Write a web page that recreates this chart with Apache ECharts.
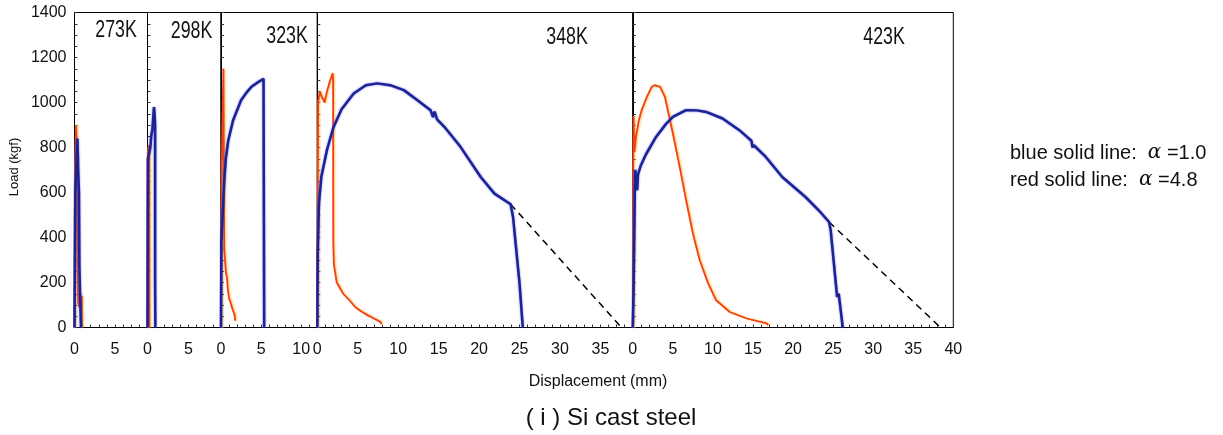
<!DOCTYPE html>
<html>
<head>
<meta charset="utf-8">
<script src="https://cdn.jsdelivr.net/npm/echarts@6/dist/echarts.min.js"></script>
<style>
  html, body { margin: 0; padding: 0; background: #fff; }
  #chart { width: 1223px; height: 435px; }
</style>
</head>
<body>
<div id="chart"></div>
<script>
  // panel names and x ranges (mm)
  const temps = ['273K', '298K', '323K', '348K', '423K']
  const xMax = [9, 9, 12, 39, 40]

  // alpha = 4.8 (red), [displacement mm, load kgf]
  const red273 = [[0, 0], [0.05, 700], [0.2, 900], [0.28, 760], [0.33, 520], [0.38, 250], [0.45, 110], [0.6, 90], [0.7, 150], [0.8, 110], [0.9, 140], [0.92, 0]]
  const red298 = [[0, 0], [0.04, 780], [0.15, 810], [0.2, 800], [0.22, 0]]
  const red323 = [[0, 0], [0.1, 720], [0.3, 1150], [0.38, 1150], [0.4, 350], [0.55, 350], [0.62, 240], [0.75, 220], [0.85, 170], [1.0, 130], [1.2, 110], [1.45, 80], [1.7, 55], [1.75, 30]]
  const red348 = [[0, 0], [0.1, 1000], [0.3, 1050], [0.5, 1030], [0.9, 1000], [1.2, 1050], [1.6, 1100], [1.9, 1130], [1.95, 1100], [1.97, 380], [2.05, 280], [2.4, 200], [3.2, 150], [4.0, 120], [4.7, 90], [5.5, 70], [6.2, 55], [7.0, 40], [7.8, 25], [7.9, 15]]
  const red423 = [[0, 0], [0.05, 700], [0.1, 940], [0.2, 780], [0.4, 850], [0.75, 920], [1.1, 966], [1.75, 1025], [2.35, 1069], [2.7, 1077], [3.4, 1069], [4.0, 1025], [5.0, 862], [5.85, 714], [6.65, 566], [7.5, 418], [8.35, 299], [9.4, 196], [10.4, 121], [12.1, 69], [14.2, 40], [16.7, 18], [16.9, 10]]

  // alpha = 1.0 (blue)
  const blue273 = [[0, 0], [0.1, 600], [0.35, 840], [0.42, 760], [0.45, 700], [0.55, 600], [0.6, 270], [0.75, 265], [0.8, 0]]
  const blue298 = [[0, 0], [0.05, 750], [0.35, 800], [0.45, 850], [0.6, 880], [0.75, 960], [0.8, 980], [0.88, 940], [0.93, 900], [0.93, 200], [0.96, 0]]
  const blue323 = [[0, 0], [0.05, 380], [0.4, 650], [0.6, 750], [0.9, 830], [1.5, 920], [2.5, 1010], [3.2, 1045], [3.8, 1070], [4.6, 1090], [5.3, 1105], [5.38, 1100], [5.38, 0]]
  const blue348 = [[0, 0], [0.05, 320], [0.2, 550], [0.5, 670], [1.2, 790], [2.0, 890], [3.0, 970], [4.5, 1040], [6.0, 1077], [7.4, 1085], [9.0, 1077], [10.7, 1055], [12.3, 1012], [14.0, 966], [14.3, 935], [14.5, 960], [14.8, 925], [15.7, 892], [17.7, 803], [20.2, 669], [21.9, 595], [23.9, 548], [24.2, 490], [25.0, 196], [25.4, 0]]
  const blue423 = [[0, 0], [0.1, 170], [0.25, 600], [0.3, 700], [0.45, 650], [0.55, 610], [0.65, 680], [1.0, 720], [1.65, 770], [2.9, 847], [4.15, 905], [5.0, 936], [6.65, 966], [8.0, 965], [9.15, 958], [11.2, 929], [13.3, 877], [14.8, 830], [14.95, 800], [15.1, 810], [16.6, 758], [18.65, 669], [21.55, 580], [23.2, 521], [24.5, 469], [24.7, 432], [25.5, 136], [25.7, 150], [25.9, 92], [26.2, 0]]

  // extrapolated dashed lines
  const dash348 = [[23.9, 548], [37.6, 0]]
  const dash423 = [[24.5, 469], [38.4, 0]]

  const reds = [red273, red298, red323, red348, red423]
  const blues = [blue273, blue298, blue323, blue348, blue423]
  const dashes = [null, null, null, dash348, dash423]

  // panel edges in px
  const edges = [74.5, 147.5, 221, 317.3, 632.8, 953.3]
  const gridTop = 12.5
  const gridHeight = 315
  const font = '"Liberation Sans", Arial, Helvetica, sans-serif'

  const chart = echarts.init(document.getElementById('chart'))

  const grid = []
  const xAxis = []
  const yAxis = []
  const series = []

  for (let i = 0; i < 5; i++) {
    grid.push({
      left: edges[i],
      top: gridTop,
      width: edges[i + 1] - edges[i],
      height: gridHeight,
      show: true,
      borderColor: '#000',
      borderWidth: 1
    })
    xAxis.push({
      type: 'value',
      gridIndex: i,
      min: 0,
      max: xMax[i],
      interval: 1,
      splitLine: {show: false},
      axisLine: {show: true, onZero: false, lineStyle: {color: '#000', width: 1}},
      axisTick: {show: true, inside: true, length: 3, lineStyle: {color: '#333'}},
      axisLabel: {
        margin: 14,
        fontSize: 16,
        fontFamily: font,
        color: '#111',
        formatter: v => (v % 5 === 0 ? String(v) : '')
      }
    })
    yAxis.push({
      type: 'value',
      gridIndex: i,
      min: 0,
      max: 1400,
      interval: 50,
      splitLine: {show: false},
      axisLine: {show: true, onZero: false, lineStyle: {color: '#000', width: 1}},
      axisTick: {show: true, inside: true, length: 3, lineStyle: {color: '#333'}},
      axisLabel: {
        show: i === 0,
        margin: 8,
        fontSize: 16,
        fontFamily: font,
        color: '#111',
        formatter: v => (v % 200 === 0 ? String(v) : '')
      }
    })
    series.push({
      type: 'line',
      xAxisIndex: i,
      yAxisIndex: i,
      data: reds[i],
      showSymbol: false,
      silent: true,
      lineStyle: {color: '#f0401c', width: 1.8, shadowColor: 'rgba(255,170,0,0.7)', shadowBlur: 2, shadowOffsetX: 1},
      z: 2
    })
    series.push({
      type: 'line',
      xAxisIndex: i,
      yAxisIndex: i,
      data: blues[i],
      showSymbol: false,
      silent: true,
      lineStyle: {color: '#1d2290', width: 2.5, shadowColor: 'rgba(60,80,240,0.8)', shadowBlur: 2},
      z: 3
    })
    if (dashes[i]) {
      series.push({
        type: 'line',
        xAxisIndex: i,
        yAxisIndex: i,
        data: dashes[i],
        showSymbol: false,
        silent: true,
        lineStyle: {color: '#000', width: 1.5, type: [7, 5]},
        z: 2
      })
    }
  }

  const tempX = [116, 191.5, 287, 567, 884]
  const tempY = [30, 31, 36, 37, 37.5]
  const graphic = temps.map((t, i) => ({
    type: 'text',
    x: tempX[i],
    y: tempY[i],
    scaleX: 0.74,
    style: {
      text: t,
      fill: '#111',
      font: '24px ' + font,
      textAlign: 'center',
      textVerticalAlign: 'middle'
    }
  }))

  graphic.push({
    type: 'text',
    x: 14,
    y: 167,
    rotation: Math.PI / 2,
    style: {
      text: 'Load (kgf)',
      fill: '#111',
      font: '13px ' + font,
      textAlign: 'center',
      textVerticalAlign: 'middle'
    }
  })
  graphic.push({
    type: 'text',
    x: 598,
    y: 382,
    style: {
      text: 'Displacement (mm)',
      fill: '#111',
      font: '16px ' + font,
      textAlign: 'center',
      textVerticalAlign: 'middle'
    }
  })
  graphic.push({
    type: 'text',
    x: 611,
    y: 418,
    style: {
      text: '( i ) Si cast steel',
      fill: '#111',
      font: '24px ' + font,
      textAlign: 'center',
      textVerticalAlign: 'middle'
    }
  })
  const notes = ['blue solid line:  {a|α} =1.0', 'red solid line:  {a|α} =4.8']
  notes.forEach((n, k) => {
    graphic.push({
      type: 'text',
      x: 1010,
      y: 153 + k * 27,
      style: {
        text: n,
        fill: '#111',
        font: '20px ' + font,
        textVerticalAlign: 'middle',
        rich: {
          a: {fontStyle: 'italic', fontSize: 20, fontFamily: '"DejaVu Serif", serif', fill: '#111'}
        }
      }
    })
  })

  chart.setOption({
    animation: false,
    backgroundColor: '#fff',
    grid: grid,
    xAxis: xAxis,
    yAxis: yAxis,
    series: series,
    graphic: graphic
  })
</script>
</body>
</html>
